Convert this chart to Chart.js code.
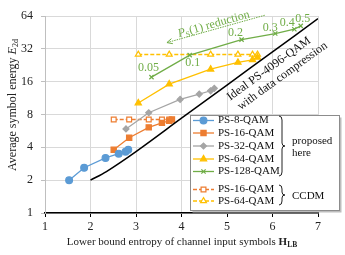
<!DOCTYPE html>
<html>
<head>
<meta charset="utf-8">
<script src="https://cdn.jsdelivr.net/npm/chart.js@4"></script>
<style>
  body { margin: 0; background: #fff; }
  #wrap { width: 345px; height: 255px; }
</style>
</head>
<body>
<div id="wrap"><canvas id="chart" width="345" height="255"></canvas></div>
<script>
// values
var ps8X = [1.53, 1.86, 2.33, 2.62, 2.77, 2.83];
var ps8Y = [2.0, 2.6, 3.2, 3.5, 3.65, 3.8];
var ps16X = [2.51, 2.85, 3.28, 3.57, 3.73, 3.79];
var ps16Y = [3.8, 4.9, 6.1, 6.7, 7.0, 7.2];
var ps32X = [2.78, 3.28, 3.97, 4.39, 4.64, 4.72];
var ps32Y = [5.9, 8.3, 11.0, 12.3, 13.2, 13.9];
var ps64X = [3.05, 3.73, 4.64, 5.24, 5.56, 5.67];
var ps64Y = [10.2, 15.2, 20.8, 24.0, 25.4, 26.7];
var ps128X = [3.34, 4.18, 5.32, 6.06, 6.48, 6.62];
var ps128Y = [17.6, 28.0, 38.9, 44.2, 48.4, 52.0];
var ccdm16X = [2.51, 2.85, 3.28, 3.57, 3.73];
var ccdm16Y = [7.2, 7.2, 7.2, 7.2, 7.2];
var ccdm64X = [3.05, 3.73, 4.64, 5.24, 5.56, 5.67];
var ccdm64Y = [28.4, 28.4, 28.4, 28.4, 28.4, 28.4];
var idealX = [2, 2.35, 3, 4, 5, 6, 7];
var idealY = [2, 2.4, 3.66, 7.4, 14.9, 30, 60.5];
var ps1Labels = ["0.05", "0.1", "0.2", "0.3", "0.4", "0.5"];
var xTicks = [1, 2, 3, 4, 5, 6, 7];
var yTicks = [1, 2, 4, 8, 16, 32, 64];

var FONT = "'Liberation Serif', serif";

function pts(xs, ys) {
	var out = [];
	for (var i = 0; i < xs.length; i++) {
		out.push({ x: xs[i], y: ys[i] });
	}
	return out;
}

var series = [
	{ label: "PS-8-QAM", xs: ps8X, ys: ps8Y, color: "#5B9BD5", style: "circle", r: 3.4, dash: [], fill: true },
	{ label: "PS-16-QAM", xs: ps16X, ys: ps16Y, color: "#ED7D31", style: "rect", r: 3.7, dash: [], fill: true },
	{ label: "PS-32-QAM", xs: ps32X, ys: ps32Y, color: "#A5A5A5", style: "rectRot", r: 3, dash: [], fill: true },
	{ label: "PS-64-QAM", xs: ps64X, ys: ps64Y, color: "#FFC000", style: "triangle", r: 3.6, dash: [], fill: true },
	{ label: "PS-128-QAM", xs: ps128X, ys: ps128Y, color: "#70AD47", style: "crossRot", r: 3, dash: [], fill: true },
	{ label: "PS-16-QAM", xs: ccdm16X, ys: ccdm16Y, color: "#ED7D31", style: "rect", r: 3.4, dash: [4, 2], fill: false },
	{ label: "PS-64-QAM", xs: ccdm64X, ys: ccdm64Y, color: "#FFC000", style: "triangle", r: 3.4, dash: [4, 2], fill: false }
];

var datasets = [];
datasets.push({
	label: "ideal",
	data: pts(idealX, idealY),
	showLine: true,
	borderColor: "#000",
	borderWidth: 1.5,
	pointRadius: 0,
	tension: 0.3
});
for (const s of series) {
	datasets.push({
		label: s.label,
		data: pts(s.xs, s.ys),
		showLine: true,
		borderColor: s.color,
		backgroundColor: s.fill ? s.color : "#fff",
		borderWidth: 1.3,
		borderDash: s.dash,
		pointStyle: s.style,
		pointRadius: s.r,
		pointBorderWidth: 1.2,
		pointBorderColor: s.color,
		pointBackgroundColor: s.fill ? s.color : "#fff"
	});
}

// draw text made of pieces (for italics and subscripts)
function richWidth(ctx, parts) {
	var w = 0;
	for (const p of parts) {
		ctx.font = p.font;
		w += ctx.measureText(p.t).width;
	}
	return w;
}
function drawRich(ctx, parts, x, y) {
	var w = richWidth(ctx, parts);
	var cx = x - w / 2;
	ctx.textAlign = "left";
	ctx.textBaseline = "middle";
	for (const p of parts) {
		ctx.font = p.font;
		ctx.fillText(p.t, cx, y + (p.dy || 0));
		cx += ctx.measureText(p.t).width;
	}
}

function drawBrace(ctx, x, y1, y2, w) {
	var ym = (y1 + y2) / 2;
	ctx.beginPath();
	ctx.moveTo(x, y1);
	ctx.quadraticCurveTo(x + w, y1, x + w, y1 + 4);
	ctx.lineTo(x + w, ym - 3);
	ctx.quadraticCurveTo(x + w, ym, x + w + 3, ym);
	ctx.quadraticCurveTo(x + w, ym, x + w, ym + 3);
	ctx.lineTo(x + w, y2 - 4);
	ctx.quadraticCurveTo(x + w, y2, x, y2);
	ctx.stroke();
}

var extras = {
	id: "extras",
	afterDraw(chart) {
		var ctx = chart.ctx;
		var xs = chart.scales.x, ys = chart.scales.y;
		ctx.save();

		// axis titles
		ctx.fillStyle = "#222";
		ctx.save();
		ctx.translate(13, 105);
		ctx.rotate(-Math.PI / 2);
		drawRich(ctx, [
			{ t: "Average symbol energy ", font: "12px " + FONT },
			{ t: "E", font: "italic 12px " + FONT },
			{ t: "2d", font: "8px " + FONT, dy: 3 }
		], 0, 0);
		ctx.restore();
		drawRich(ctx, [
			{ t: "Lower bound entropy of channel input symbols ", font: "11px " + FONT },
			{ t: "H", font: "bold 11px " + FONT },
			{ t: "LB", font: "bold 7.5px " + FONT, dy: 3 }
		], 182, 242);

		// PS(1) labels next to the green points
		var offs = [[-3, -9], [3, 8], [-6, -7], [-5, -6], [-7, -6], [2, -7]];
		ctx.fillStyle = "#70AD47";
		ctx.font = "12px " + FONT;
		ctx.textAlign = "center";
		ctx.textBaseline = "middle";
		for (var i = 0; i < ps1Labels.length; i++) {
			var px = xs.getPixelForValue(ps128X[i]) + offs[i][0];
			var py = ys.getPixelForValue(ps128Y[i]) + offs[i][1];
			ctx.fillText(ps1Labels[i], px, py);
		}

		// reduction arrow
		var ax1 = xs.getPixelForValue(5.83), ay1 = ys.getPixelForValue(65);
		var ax2 = xs.getPixelForValue(3.68), ay2 = ys.getPixelForValue(36.5);
		ctx.strokeStyle = "#70AD47";
		ctx.lineWidth = 1;
		ctx.setLineDash([1.5, 1]);
		ctx.beginPath();
		ctx.moveTo(ax1, ay1);
		ctx.lineTo(ax2, ay2);
		ctx.stroke();
		ctx.setLineDash([]);
		var ang = Math.atan2(ay1 - ay2, ax1 - ax2);
		ctx.beginPath();
		ctx.moveTo(ax2 + 6 * Math.cos(ang - 0.45), ay2 + 6 * Math.sin(ang - 0.45));
		ctx.lineTo(ax2, ay2);
		ctx.lineTo(ax2 + 6 * Math.cos(ang + 0.45), ay2 + 6 * Math.sin(ang + 0.45));
		ctx.stroke();

		ctx.save();
		ctx.translate(xs.getPixelForValue(4.71), ys.getPixelForValue(53.8));
		ctx.rotate(ang);
		drawRich(ctx, [
			{ t: "P", font: "italic 12px " + FONT },
			{ t: "S", font: "8px " + FONT, dy: 3 },
			{ t: "(1) reduction", font: "12px " + FONT }
		], 0, 0);
		ctx.restore();

		// ideal line text
		ctx.fillStyle = "#111";
		var rot = -36 * Math.PI / 180;
		ctx.save();
		ctx.translate(xs.getPixelForValue(5.92), ys.getPixelForValue(21.0));
		ctx.rotate(rot);
		drawRich(ctx, [{ t: "Ideal PS-4096-QAM", font: "12px " + FONT }], 0, 0);
		ctx.restore();
		ctx.save();
		ctx.translate(xs.getPixelForValue(6.22), ys.getPixelForValue(18.0));
		ctx.rotate(rot);
		drawRich(ctx, [{ t: "with data compression", font: "12px " + FONT }], 0, 0);
		ctx.restore();

		// legend box
		var bx = 190.5, by = 115.5, bw = 149, bh = 95;
		ctx.fillStyle = "#bdbdbd";
		ctx.fillRect(bx + 2, by + 2, bw, bh);
		ctx.fillStyle = "#fff";
		ctx.fillRect(bx, by, bw, bh);
		ctx.strokeStyle = "#8c8c8c";
		ctx.lineWidth = 1;
		ctx.strokeRect(bx, by, bw, bh);

		var rows = [120.5, 133, 146, 159, 171.5, 189.5, 201];
		for (var j = 0; j < series.length; j++) {
			var s = series[j];
			var ry = rows[j];
			ctx.strokeStyle = s.color;
			ctx.lineWidth = 1.3;
			ctx.setLineDash(s.dash);
			ctx.beginPath();
			ctx.moveTo(193, ry);
			ctx.lineTo(214, ry);
			ctx.stroke();
			ctx.setLineDash([]);
			ctx.fillStyle = s.fill ? s.color : "#fff";
			ctx.lineWidth = 1.2;
			Chart.helpers.drawPoint(ctx, { pointStyle: s.style, radius: s.r, rotation: 0, borderWidth: 1.2 }, 203.5, ry);
			ctx.fillStyle = "#111";
			ctx.font = "11px " + FONT;
			ctx.textAlign = "left";
			ctx.textBaseline = "middle";
			ctx.fillText(s.label, 218, ry);
		}
		ctx.strokeStyle = "#222";
		ctx.lineWidth = 1;
		drawBrace(ctx, 279, 116, 176, 3);
		drawBrace(ctx, 279, 185, 205, 3);
		ctx.fillStyle = "#111";
		ctx.font = "11px " + FONT;
		ctx.textAlign = "left";
		ctx.fillText("proposed", 292, 141.5);
		ctx.fillText("here", 292, 153.5);
		ctx.fillText("CCDM", 292, 196.5);

		ctx.restore();
	}
};

var ctx = document.getElementById("chart").getContext("2d");
var chart = new Chart(ctx, {
	type: "scatter",
	data: { datasets: datasets },
	options: {
		responsive: false,
		animation: false,
		layout: { padding: { left: 0, top: 16, right: 27, bottom: 0 } },
		plugins: { legend: { display: false }, tooltip: { enabled: false } },
		scales: {
			x: {
				type: "linear",
				min: 1,
				max: 7,
				afterBuildTicks: function (axis) {
					axis.ticks = xTicks.map(v => ({ value: v }));
				},
				afterFit: function (axis) { axis.height = 42; },
				grid: { color: "#d9d9d9", tickLength: 4, tickColor: "#000" },
				border: { color: "#000", width: 1.5 },
				ticks: { color: "#222", font: { family: FONT, size: 12 }, padding: 3 }
			},
			y: {
				type: "logarithmic",
				min: 1,
				max: 64,
				afterBuildTicks: function (axis) {
					axis.ticks = yTicks.map(v => ({ value: v }));
				},
				afterFit: function (axis) { axis.width = 45; },
				grid: { color: "#d9d9d9", tickLength: 4, tickColor: "#bfbfbf" },
				border: { color: "#bfbfbf", width: 1 },
				ticks: {
					color: "#222",
					font: { family: FONT, size: 12 },
					padding: 8,
					callback: function (v) { return String(v); }
				}
			}
		}
	},
	plugins: [extras]
});
</script>
</body>
</html>
